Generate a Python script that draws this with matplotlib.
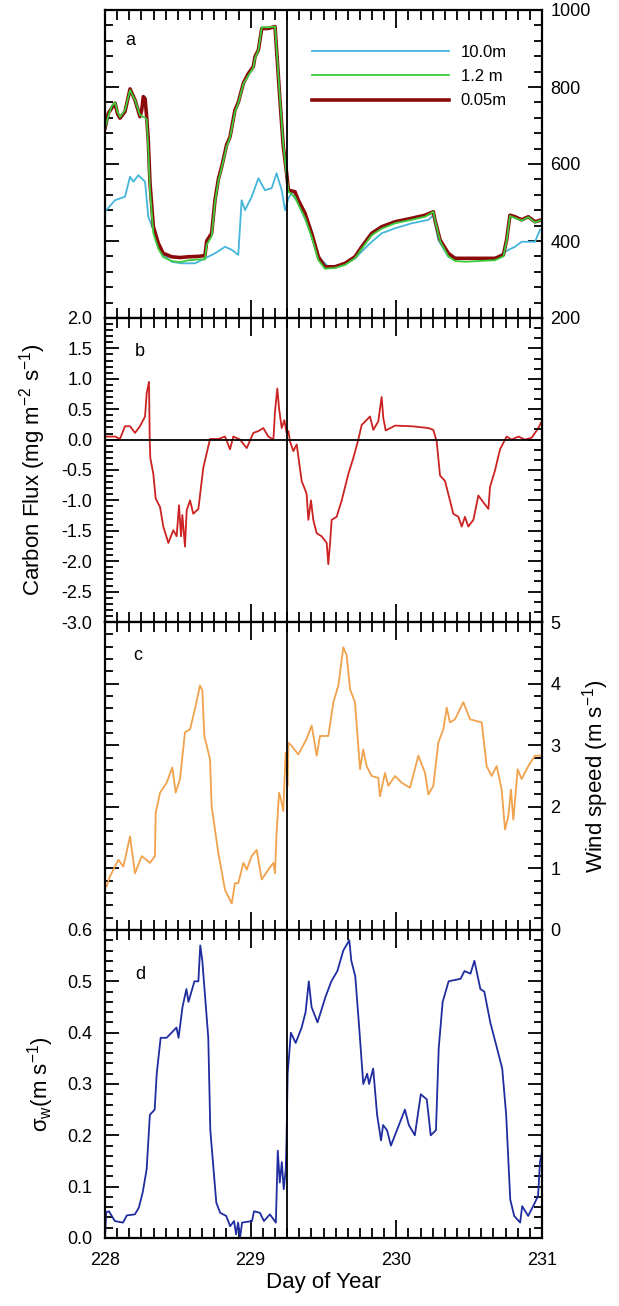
import matplotlib
matplotlib.use("Agg")
import matplotlib.pyplot as plt
from matplotlib.ticker import MultipleLocator

plt.rcParams["font.family"] = ["Liberation Sans", "DejaVu Sans"]
plt.rcParams["mathtext.fontset"] = "custom"
plt.rcParams["mathtext.rm"] = "Liberation Sans"
plt.rcParams["mathtext.it"] = "Liberation Sans:italic"

# panel a: CO2 concentration at three heights
day_a = [228.000, 228.023, 228.046, 228.069, 228.086, 228.103, 228.137, 228.172, 228.189, 228.206,
         228.240, 228.252, 228.263, 228.275, 228.286, 228.297, 228.309, 228.332, 228.366, 228.400,
         228.458, 228.515, 228.572, 228.640, 228.686, 228.698, 228.732, 228.755, 228.778, 228.801,
         228.835, 228.858, 228.892, 228.915, 228.950, 228.984, 229.018, 229.030, 229.053, 229.076,
         229.120, 229.167, 229.178, 229.201, 229.224, 229.247, 229.259, 229.304, 229.327, 229.373,
         229.419, 229.465, 229.510, 229.579, 229.648, 229.716, 229.762, 229.831, 229.899, 229.991,
         230.105, 230.197, 230.254, 230.265, 230.300, 230.357, 230.403, 230.480, 230.563, 230.677,
         230.735, 230.757, 230.780, 230.815, 230.860, 230.906, 230.952, 230.998]
co2_005 = [693, 732, 745, 758, 730, 719, 736, 795, 780, 766,
           723, 740, 775, 770, 723, 662, 550, 437, 394, 368,
           359, 357, 359, 360, 362, 400, 420, 506, 560, 593,
           650, 670, 740, 760, 810, 835, 853, 879, 896, 952,
           952, 957, 896, 766, 645, 576, 532, 528, 506, 472,
           420, 359, 333, 333, 342, 359, 385, 420, 437, 450,
           459, 467, 476, 455, 403, 368, 355, 355, 355, 355,
           364, 403, 467, 463, 455, 463, 450, 455]
co2_12 = [693, 725, 750, 760, 735, 722, 740, 792, 778, 766,
          727, 725, 722, 720, 715, 640, 530, 420, 380, 358,
          348, 345, 350, 352, 352, 390, 412, 500, 555, 590,
          645, 668, 735, 758, 808, 830, 850, 875, 895, 955,
          955, 957, 900, 770, 650, 570, 528, 515, 495, 460,
          410, 350, 328, 330, 338, 355, 380, 415, 432, 446,
          455, 463, 476, 455, 400, 360, 348, 346, 348, 350,
          360, 400, 465, 460, 453, 462, 448, 455]

day_a10 = [228.000, 228.069, 228.137, 228.172, 228.195, 228.229, 228.275, 228.297, 228.332, 228.389,
           228.458, 228.526, 228.618, 228.686, 228.755, 228.824, 228.870, 228.915, 228.938, 228.961,
           229.007, 229.053, 229.098, 229.144, 229.178, 229.213, 229.236, 229.259, 229.281, 229.327,
           229.396, 229.465, 229.533, 229.625, 229.716, 229.808, 229.899, 229.991, 230.105, 230.220,
           230.254, 230.288, 230.357, 230.449, 230.563, 230.677, 230.769, 230.815, 230.860, 230.952,
           230.986]
co2_10 = [476, 506, 515, 567, 554, 571, 554, 463, 429, 368,
          346, 342, 342, 355, 368, 385, 377, 364, 506, 480,
          515, 563, 532, 537, 576, 532, 480, 511, 524, 498,
          437, 359, 333, 338, 355, 390, 420, 433, 446, 455,
          467, 403, 359, 355, 355, 355, 377, 385, 398, 398,
          429]

# panel b: carbon flux
day_b = [228.000, 228.069, 228.103, 228.137, 228.172, 228.206, 228.240, 228.275, 228.286, 228.302,
         228.307, 228.311, 228.332, 228.348, 228.378, 228.400, 228.435, 228.469, 228.492, 228.508,
         228.522, 228.531, 228.549, 228.561, 228.584, 228.606, 228.641, 228.675, 228.721, 228.778,
         228.824, 228.858, 228.881, 228.927, 228.973, 229.018, 229.053, 229.087, 229.121, 229.156,
         229.167, 229.183, 229.195, 229.213, 229.231, 229.247, 229.259, 229.270, 229.293, 229.316,
         229.350, 229.384, 229.396, 229.414, 229.430, 229.453, 229.487, 229.522, 229.533, 229.545,
         229.556, 229.590, 229.625, 229.670, 229.705, 229.739, 229.762, 229.819, 229.842, 229.876,
         229.899, 229.911, 229.927, 229.991, 230.105, 230.220, 230.254, 230.277, 230.300, 230.334,
         230.368, 230.391, 230.426, 230.449, 230.471, 230.494, 230.529, 230.563, 230.597, 230.632,
         230.643, 230.677, 230.712, 230.757, 230.792, 230.838, 230.883, 230.929, 230.975, 230.998]
flux = [0.05, 0.05, 0.01, 0.22, 0.22, 0.11, 0.22, 0.38, 0.76, 0.95,
        0.00, -0.30, -0.57, -0.97, -1.11, -1.43, -1.70, -1.49, -1.59, -1.08,
        -1.59, -1.24, -1.76, -1.16, -1.00, -1.22, -1.14, -0.46, 0.01, 0.01,
        0.05, -0.16, 0.05, 0.00, -0.14, 0.11, 0.14, 0.19, 0.05, 0.00,
        0.46, 0.84, 0.51, 0.19, 0.32, 0.11, 0.14, -0.03, -0.19, -0.08,
        -0.68, -0.89, -1.32, -1.00, -1.32, -1.54, -1.59, -1.70, -2.05, -1.70,
        -1.32, -1.27, -1.00, -0.57, -0.30, 0.00, 0.24, 0.38, 0.16, 0.30,
        0.70, 0.35, 0.15, 0.23, 0.22, 0.19, 0.16, -0.03, -0.59, -0.68,
        -1.00, -1.22, -1.27, -1.43, -1.27, -1.43, -1.32, -0.92, -1.03, -1.14,
        -0.78, -0.51, -0.16, 0.05, 0.00, 0.05, 0.00, 0.03, 0.19, 0.30]

# panel c: wind speed
day_c = [228.011, 228.034, 228.092, 228.126, 228.172, 228.206, 228.252, 228.309, 228.343, 228.348,
         228.378, 228.423, 228.462, 228.485, 228.515, 228.549, 228.584, 228.618, 228.652, 228.668,
         228.682, 228.721, 228.732, 228.778, 228.824, 228.847, 228.870, 228.892, 228.915, 228.950,
         228.973, 229.007, 229.041, 229.076, 229.121, 229.156, 229.167, 229.178, 229.195, 229.208,
         229.224, 229.240, 229.254, 229.259, 229.281, 229.327, 229.384, 229.419, 229.453, 229.476,
         229.533, 229.568, 229.602, 229.636, 229.659, 229.682, 229.716, 229.751, 229.773, 229.796,
         229.831, 229.876, 229.888, 229.922, 229.945, 229.991, 230.037, 230.094, 230.151, 230.197,
         230.220, 230.254, 230.288, 230.323, 230.346, 230.368, 230.403, 230.460, 230.506, 230.586,
         230.620, 230.654, 230.689, 230.723, 230.746, 230.769, 230.787, 230.803, 230.833, 230.860,
         230.906, 230.952, 230.998]
wind = [0.71, 0.87, 1.14, 1.03, 1.52, 0.92, 1.20, 1.09, 1.20, 1.90,
        2.23, 2.39, 2.64, 2.23, 2.45, 3.21, 3.26, 3.59, 3.97, 3.89,
        3.15, 2.77, 2.01, 1.25, 0.65, 0.54, 0.43, 0.76, 0.76, 1.09,
        0.98, 1.20, 1.30, 0.82, 0.98, 1.09, 0.92, 1.58, 2.23, 2.12,
        1.93, 2.88, 2.34, 3.04, 2.99, 2.85, 3.10, 3.32, 2.83, 3.15,
        3.15, 3.70, 3.97, 4.59, 4.46, 3.91, 3.70, 2.61, 2.93, 2.66,
        2.50, 2.47, 2.17, 2.55, 2.34, 2.50, 2.39, 2.31, 2.83, 2.55,
        2.20, 2.34, 3.04, 3.26, 3.61, 3.37, 3.42, 3.70, 3.42, 3.37,
        2.66, 2.50, 2.66, 2.28, 1.63, 1.85, 2.28, 1.79, 2.61, 2.45,
        2.66, 2.83, 2.83]

# panel d: sigma_w
day_d = [228.000, 228.008, 228.027, 228.068, 228.123, 228.150, 228.205, 228.232, 228.259, 228.286,
         228.308, 228.341, 228.355, 228.382, 228.423, 228.491, 228.505, 228.532, 228.559, 228.573,
         228.614, 228.641, 228.654, 228.668, 228.690, 228.709, 228.723, 228.764, 228.791, 228.832,
         228.859, 228.886, 228.900, 228.914, 228.927, 228.941, 229.009, 229.023, 229.064, 229.091,
         229.132, 229.173, 229.186, 229.200, 229.214, 229.227, 229.241, 229.246, 229.254, 229.276,
         229.309, 229.350, 229.377, 229.399, 229.418, 229.459, 229.514, 229.554, 229.595, 229.636,
         229.677, 229.691, 229.718, 229.745, 229.773, 229.800, 229.813, 229.841, 229.868, 229.895,
         229.909, 229.936, 229.963, 230.004, 230.059, 230.086, 230.127, 230.168, 230.209, 230.236,
         230.272, 230.291, 230.318, 230.359, 230.441, 230.468, 230.509, 230.536, 230.577, 230.604,
         230.645, 230.700, 230.727, 230.754, 230.782, 230.809, 230.850, 230.864, 230.905, 230.946,
         230.973, 230.986, 231.000]
sigma_w = [0.000, 0.050, 0.052, 0.033, 0.030, 0.044, 0.046, 0.059, 0.089, 0.134,
           0.240, 0.250, 0.320, 0.390, 0.390, 0.410, 0.390, 0.450, 0.485, 0.460,
           0.500, 0.500, 0.570, 0.540, 0.460, 0.390, 0.210, 0.069, 0.049, 0.043,
           0.023, 0.033, 0.007, 0.030, 0.000, 0.030, 0.033, 0.052, 0.049, 0.033,
           0.046, 0.030, 0.170, 0.108, 0.148, 0.095, 0.134, 0.190, 0.320, 0.400,
           0.380, 0.410, 0.440, 0.500, 0.450, 0.420, 0.470, 0.500, 0.520, 0.560,
           0.580, 0.540, 0.510, 0.410, 0.300, 0.320, 0.300, 0.330, 0.240, 0.190,
           0.220, 0.210, 0.180, 0.210, 0.250, 0.220, 0.200, 0.280, 0.270, 0.200,
           0.210, 0.370, 0.460, 0.500, 0.505, 0.520, 0.515, 0.540, 0.485, 0.480,
           0.420, 0.360, 0.330, 0.240, 0.075, 0.043, 0.030, 0.062, 0.043, 0.066,
           0.082, 0.148, 0.167]

marker_day = 229.25
x_ticks = [228, 229, 230, 231]

W, H = 619, 1306
fig = plt.figure(figsize=(W / 100, H / 100), dpi=100)

left = 105 / W
width = 437 / W
edges = [10, 318, 622, 930, 1238]
axes = []
for i in range(4):
    bottom = 1 - edges[i + 1] / H
    height = (edges[i + 1] - edges[i]) / H
    axes.append(fig.add_axes([left, bottom, width, height]))
ax_a, ax_b, ax_c, ax_d = axes

FS = 13


def style(ax, label_side, major, minor):
    ax.set_xlim(228, 231)
    ax.set_xticks(x_ticks)
    ax.xaxis.set_minor_locator(MultipleLocator(1 / 12))
    ax.yaxis.set_major_locator(MultipleLocator(major))
    ax.yaxis.set_minor_locator(MultipleLocator(minor))
    ax.tick_params(which="both", direction="in", top=True, bottom=True,
                   left=True, right=True, labelsize=FS, width=1.3,
                   labelleft=(label_side == "left"), labelright=(label_side == "right"))
    ax.tick_params(axis="y", which="major", length=10, pad=9)
    ax.tick_params(axis="y", which="minor", length=6)
    ax.tick_params(axis="x", which="major", length=13, pad=10)
    ax.tick_params(axis="x", which="minor", length=7)
    for sp in ax.spines.values():
        sp.set_linewidth(1.6)
    ax.axvline(marker_day, color="black", lw=1.3, zorder=5)


# panel a
ax_a.plot(day_a10, co2_10, color="#45b5dc", lw=1.3, label="10.0m")
ax_a.plot(day_a, co2_005, color="#8b0a0a", lw=2.6, label="0.05m")
ax_a.plot(day_a, co2_12, color="#3ccc3c", lw=1.3, label="1.2 m")
ax_a.set_ylim(200, 1000)
style(ax_a, "right", 200, 40)
ax_a.tick_params(axis="y", which="major", pad=6)
h, l = ax_a.get_legend_handles_labels()
ax_a.legend([h[0], h[2], h[1]], [l[0], l[2], l[1]], loc="upper left",
            bbox_to_anchor=(0.44, 0.935), frameon=False, handlelength=8.2,
            handletextpad=0.7, labelspacing=0.55, fontsize=12)
ax_a.text(0.046, 0.9, "a", transform=ax_a.transAxes, fontsize=13, va="center")

# panel b
ax_b.plot(day_b, flux, color="#cc2222", lw=1.3)
ax_b.axhline(0, color="black", lw=1.3)
ax_b.set_ylim(-3.0, 2.0)
style(ax_b, "left", 0.5, 0.1)
ax_b.tick_params(right=False, which="both")
ax_b.yaxis.set_major_formatter(plt.FuncFormatter(lambda v, p: f"{v:.1f}"))
ax_b2 = ax_b.twinx()
ax_b2.set_ylim(-3.0, 2.0)
ax_b2.yaxis.set_major_locator(MultipleLocator(0.5))
ax_b2.yaxis.set_minor_locator(MultipleLocator(0.5 / 3))
ax_b2.tick_params(axis="y", which="both", direction="in", labelright=False, width=1.3)
ax_b2.tick_params(axis="y", which="major", length=10)
ax_b2.tick_params(axis="y", which="minor", length=6)
ax_b.yaxis.tick_left()
ax_b.set_ylabel("Carbon Flux (mg m$^{-2}$ s$^{-1}$)", fontsize=16, labelpad=10)
ax_b.text(0.069, 0.89, "b", transform=ax_b.transAxes, fontsize=13, va="center")

# panel c
ax_c.plot(day_c, wind, color="#f0a24c", lw=1.3)
ax_c.set_ylim(0, 5)
style(ax_c, "right", 1, 0.2)
ax_c.tick_params(axis="y", which="major", pad=6)
ax_c.yaxis.set_label_position("right")
ax_c.set_ylabel("Wind speed (m s$^{-1}$)", fontsize=16, labelpad=14)
ax_c.text(0.064, 0.89, "c", transform=ax_c.transAxes, fontsize=13, va="center")

# panel d
ax_d.plot(day_d, sigma_w, color="#1f2da0", lw=1.3)
ax_d.set_ylim(0, 0.6)
style(ax_d, "left", 0.1, 0.02)
ax_d.yaxis.set_major_formatter(plt.FuncFormatter(lambda v, p: f"{v:.1f}"))
ax_d.set_ylabel("σ$_{\\mathrm{w}}$(m s$^{-1}$)", fontsize=16, labelpad=8)
ax_d.set_xlabel("Day of Year", fontsize=16, labelpad=2)
ax_d.text(0.069, 0.857, "d", transform=ax_d.transAxes, fontsize=13, va="center")

for ax in (ax_a, ax_b, ax_c):
    ax.tick_params(labelbottom=False)
ax_d.set_xticklabels([str(t) for t in x_ticks])

fig.savefig("out.png", dpi=100)
